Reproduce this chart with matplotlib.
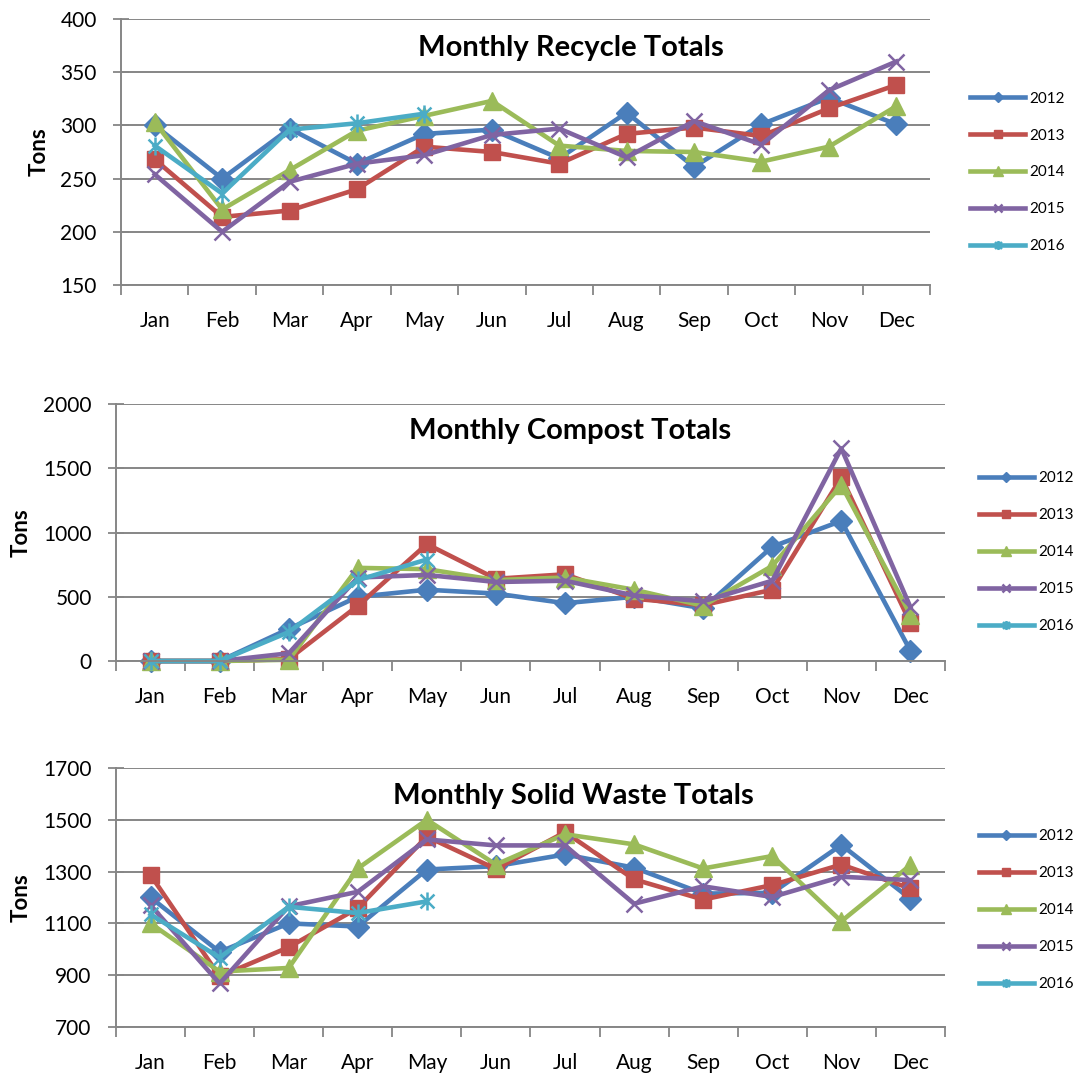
import numpy as np
import matplotlib
matplotlib.use("Agg")
from matplotlib import pyplot as plt
from matplotlib.path import Path

months = ["Jan", "Feb", "Mar", "Apr", "May", "Jun", "Jul", "Aug", "Sep", "Oct", "Nov", "Dec"]
years = ["2012", "2013", "2014", "2015", "2016"]

recycle_2012 = [300, 250, 297, 264, 292, 296, 269, 312, 261, 301, 326, 301]
recycle_2013 = [268, 214, 220, 240, 280, 275, 264, 292, 298, 290, 316, 338]
recycle_2014 = [303, 221, 258, 295, 309, 323, 281, 276, 275, 266, 280, 318]
recycle_2015 = [254, 200, 247, 264, 272, 291, 297, 270, 304, 282, 333, 360]
recycle_2016 = [281, 236, 296, 302, 311]

compost_2012 = [0, 0, 250, 500, 555, 525, 450, 500, 410, 890, 1090, 80]
compost_2013 = [0, 0, 15, 430, 910, 640, 675, 485, 435, 555, 1430, 295]
compost_2014 = [0, 0, 10, 725, 715, 630, 650, 555, 430, 740, 1370, 360]
compost_2015 = [0, 0, 60, 650, 670, 615, 625, 510, 465, 625, 1655, 420]
compost_2016 = [0, 0, 225, 630, 790]

waste_2012 = [1200, 990, 1100, 1088, 1308, 1321, 1366, 1315, 1215, 1218, 1403, 1195]
waste_2013 = [1287, 895, 1008, 1159, 1435, 1310, 1452, 1270, 1192, 1248, 1327, 1235]
waste_2014 = [1100, 914, 928, 1312, 1500, 1327, 1444, 1405, 1312, 1360, 1108, 1325]
waste_2015 = [1170, 868, 1166, 1222, 1424, 1401, 1401, 1176, 1243, 1202, 1280, 1267]
waste_2016 = [1135, 968, 1164, 1140, 1185]

colors = ["#4A7EBB", "#C0504D", "#9BBB59", "#8064A2", "#4BACC6"]

# excel style star: an x with a vertical bar through it
star = Path([(-1, -1), (1, 1), (-1, 1), (1, -1), (0, -1.3), (0, 1.3)],
            [Path.MOVETO, Path.LINETO, Path.MOVETO, Path.LINETO, Path.MOVETO, Path.LINETO])
markers = ["D", "s", "^", "x", star]
msizes = [11, 12, 13, 12, 13]

panels = [
    ("Monthly Recycle Totals", [recycle_2012, recycle_2013, recycle_2014, recycle_2015, recycle_2016],
     (150, 400), np.arange(150, 401, 50), [0.1125, 0.7356, 0.7518, 0.2468], (0.9015, 0.915), 0.556),
    ("Monthly Compost Totals", [compost_2012, compost_2013, compost_2014, compost_2015, compost_2016],
     (0, 2000), np.arange(0, 2001, 500), [0.1078, 0.3868, 0.7704, 0.2384], (0.9095, 0.5627), 0.548),
    ("Monthly Solid Waste Totals", [waste_2012, waste_2013, waste_2014, waste_2015, waste_2016],
     (700, 1700), np.arange(700, 1701, 200), [0.1078, 0.0473, 0.7704, 0.2403], (0.9095, 0.2306), 0.552),
]

fig = plt.figure(figsize=(10.76, 10.78), dpi=100)
plt.rcParams['font.family'] = ['Lato', 'DejaVu Sans']
grey = "#868686"

for title, series, ylim, yticks, rect, leg_pos, title_x in panels:
    ax = fig.add_axes(rect)
    x = np.arange(12)
    for i in range(5):
        vals = series[i]
        ax.plot(x[:len(vals)], vals, color=colors[i], lw=3.3, marker=markers[i],
                markersize=msizes[i], markeredgewidth=1.8 if i >= 3 else 1,
                markerfacecolor=colors[i], markeredgecolor=colors[i],
                label=years[i], solid_joinstyle="round", clip_on=False)
    ax.set_xlim(-0.5, 11.5)
    ax.set_ylim(*ylim)
    ax.set_yticks(yticks)
    ax.set_xticks(x)
    ax.set_xticklabels(months)
    ax.set_xticks(np.arange(-0.5, 12, 1), minor=True)
    ax.tick_params(axis="x", which="major", length=0, pad=19, labelsize=15)
    ax.tick_params(axis="x", which="minor", length=7, width=1.3, color=grey, direction="out")
    ax.tick_params(axis="y", length=11, width=1.3, color=grey, direction="inout", pad=12, labelsize=15)
    ax.yaxis.grid(True, color=grey, lw=1.4)
    ax.set_axisbelow(True)
    for s in ["top", "right"]:
        ax.spines[s].set_visible(False)
    for s in ["left", "bottom"]:
        ax.spines[s].set_color(grey)
        ax.spines[s].set_linewidth(1.4)
    ax.set_ylabel("Tons", fontsize=16, fontweight="bold", labelpad=8)
    ax.set_title(title, fontsize=21, fontweight="bold", x=title_x, y=0.83)
    ax.legend(loc="upper left", bbox_to_anchor=leg_pos, bbox_transform=fig.transFigure,
              frameon=False, handlelength=3.6, labelspacing=1.5, markerscale=0.5,
              fontsize=11, borderpad=0, borderaxespad=0, handletextpad=0.3)

plt.savefig("out.png", dpi=100)
